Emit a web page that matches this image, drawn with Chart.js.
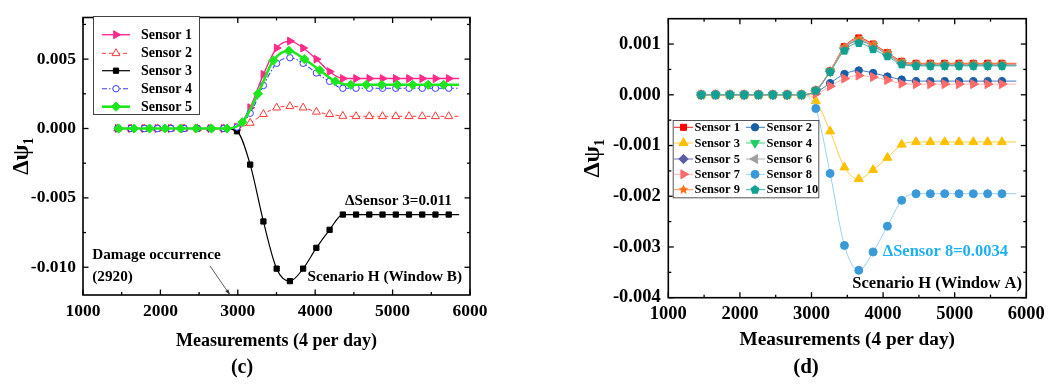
<!DOCTYPE html>
<html><head><meta charset="utf-8">
<script src="https://cdn.jsdelivr.net/npm/chart.js@4.4.1/dist/chart.umd.min.js"></script>
<style>
html,body{margin:0;padding:0;background:#fff;overflow:hidden}
.p{position:absolute;top:0;width:525px;height:385px}
</style></head>
<body>
<div class="p" style="left:0"><canvas id="c1"></canvas></div>
<div class="p" style="left:525px"><canvas id="c2"></canvas></div>
<script>
// ---------- tick labels ----------
const xTicks = [1000, 2000, 3000, 4000, 5000, 6000];
const xMinorTicks = [1500, 2500, 3500, 4500, 5500];
const yTicksC = [-0.010, -0.005, 0.000, 0.005];
const yMinorC = [-0.0075, -0.0025, 0.0025, 0.0075];
const yTicksD = [-0.004, -0.003, -0.002, -0.001, 0.000, 0.001];
const yMinorD = [-0.0035, -0.0025, -0.0015, -0.0005, 0.0005];

// ---------- panel (c) data ----------
const sensorLabelsC = ['Sensor 1', 'Sensor 2', 'Sensor 3', 'Sensor 4', 'Sensor 5'];
const xC14 = [1450, 1621, 1792, 1963, 2134, 2305, 2476, 2647, 2818, 2989, 3160, 3331, 3502, 3673, 3844, 4015, 4186, 4357, 4528, 4699, 4870, 5041, 5212, 5383, 5554, 5725, 5860];
const xC5 = [1460, 1660, 1860, 2060, 2260, 2460, 2660, 2860, 3060, 3260, 3460, 3660, 3860, 4060, 4260, 4460, 4660, 4860, 5060, 5260, 5460, 5660, 5860];
const c1 = [0, 0, 0, 0, 0, 0, 0, 0, 0, 0.0001, 0.0015, 0.0039, 0.0058, 0.0063, 0.0058, 0.0050, 0.0041, 0.0036, 0.0036, 0.0036, 0.0036, 0.0036, 0.0036, 0.0036, 0.0036, 0.0036, 0.0036];
const c2 = [0, 0, 0, 0, 0, 0, 0, 0, 0, 0.00002, 0.0004, 0.00103, 0.0015, 0.0016, 0.0015, 0.0012, 0.00103, 0.0009, 0.00088, 0.00088, 0.00088, 0.00088, 0.00088, 0.00088, 0.00088, 0.00088, 0.00088];
const c3 = [0, 0, 0, 0, 0, 0, 0, 0, 0, -0.0002, -0.0026, -0.0067, -0.0101, -0.0110, -0.0101, -0.0086, -0.0073, -0.0062, -0.0062, -0.0062, -0.0062, -0.0062, -0.0062, -0.0062, -0.0062, -0.0062, -0.0062];
const c4 = [0, 0, 0, 0, 0, 0, 0, 0, 0, 0.0001, 0.0011, 0.0031, 0.0047, 0.0051, 0.0047, 0.0040, 0.0034, 0.0029, 0.0029, 0.0029, 0.0029, 0.0029, 0.0029, 0.0029, 0.0029, 0.0029, 0.0029];
const c5 = [0, 0, 0, 0, 0, 0, 0, 0, 0.00045, 0.0025, 0.0049, 0.0056, 0.0050, 0.0042, 0.0034, 0.00315, 0.00315, 0.00315, 0.00315, 0.00315, 0.00315, 0.00315, 0.00315];

// ---------- panel (d) data ----------
const sensorLabelsD = ['Sensor 1', 'Sensor 2', 'Sensor 3', 'Sensor 4', 'Sensor 5', 'Sensor 6', 'Sensor 7', 'Sensor 8', 'Sensor 9', 'Sensor 10'];
const xD = [1460, 1660, 1860, 2060, 2260, 2460, 2660, 2860, 3060, 3260, 3460, 3660, 3860, 4060, 4260, 4460, 4660, 4860, 5060, 5260, 5460, 5660, 5860];
const d1 = [0, 0, 0, 0, 0, 0, 0, 0, 0.00009, 0.00047, 0.00095, 0.00112, 0.00100, 0.00083, 0.00066, 0.00062, 0.00062, 0.00062, 0.00062, 0.00062, 0.00062, 0.00062, 0.00062];
const d2 = [0, 0, 0, 0, 0, 0, 0, 0, 0.00005, 0.00023, 0.00041, 0.00048, 0.00043, 0.00036, 0.00030, 0.00027, 0.00027, 0.00027, 0.00027, 0.00027, 0.00027, 0.00027, 0.00027];
const d3 = [0, 0, 0, 0, 0, 0, 0, 0, -0.00012, -0.00072, -0.00143, -0.00166, -0.00148, -0.00124, -0.00098, -0.00093, -0.00093, -0.00093, -0.00093, -0.00093, -0.00093, -0.00093, -0.00093];
const d4 = [0, 0, 0, 0, 0, 0, 0, 0, 0.00008, 0.00046, 0.00092, 0.00108, 0.00097, 0.00080, 0.00063, 0.00058, 0.00058, 0.00058, 0.00058, 0.00058, 0.00058, 0.00058, 0.00058];
const d5 = [0, 0, 0, 0, 0, 0, 0, 0, 0.00008, 0.00046, 0.00091, 0.00106, 0.00096, 0.00079, 0.00063, 0.00059, 0.00059, 0.00059, 0.00059, 0.00059, 0.00059, 0.00059, 0.00059];
const d6 = [0, 0, 0, 0, 0, 0, 0, 0, 0.00008, 0.00046, 0.00093, 0.00107, 0.00097, 0.00080, 0.00062, 0.00058, 0.00058, 0.00058, 0.00058, 0.00058, 0.00058, 0.00058, 0.00058];
const d7 = [0, 0, 0, 0, 0, 0, 0, 0, 0.00002, 0.00017, 0.00032, 0.00038, 0.00035, 0.00029, 0.00022, 0.00021, 0.00021, 0.00021, 0.00021, 0.00021, 0.00021, 0.00021, 0.00021];
const d8 = [0, 0, 0, 0, 0, 0, 0, 0, -0.00027, -0.00155, -0.00297, -0.00346, -0.00310, -0.00259, -0.00208, -0.00195, -0.00195, -0.00195, -0.00195, -0.00195, -0.00195, -0.00195, -0.00195];
const d9 = [0, 0, 0, 0, 0, 0, 0, 0, 0.00009, 0.00047, 0.00094, 0.00110, 0.00099, 0.00082, 0.00065, 0.00061, 0.00061, 0.00061, 0.00061, 0.00061, 0.00061, 0.00061, 0.00061];
const d10 = [0, 0, 0, 0, 0, 0, 0, 0, 0.00008, 0.00045, 0.00087, 0.00102, 0.00090, 0.00076, 0.00060, 0.00057, 0.00057, 0.00057, 0.00057, 0.00057, 0.00057, 0.00057, 0.00057];

// ---------- styling ----------
const SERIF = "'Liberation Serif', 'Times New Roman', 'DejaVu Serif', serif";
Chart.defaults.font.family = SERIF;
Chart.defaults.color = '#000';

function shapeCanvas(kind, color, R) {
  const s = Math.ceil(2 * R + 2);
  const cv = document.createElement('canvas');
  cv.width = s; cv.height = s;
  const g = cv.getContext('2d');
  const c = s / 2;
  g.beginPath();
  if (kind === 'star') {
    for (let k = 0; k < 10; k++) {
      const rr = k % 2 === 0 ? R : R * 0.45;
      const a = -Math.PI / 2 + k * Math.PI / 5;
      const px = c + rr * Math.cos(a), py = c + rr * Math.sin(a);
      k === 0 ? g.moveTo(px, py) : g.lineTo(px, py);
    }
  } else {
    for (let k = 0; k < 5; k++) {
      const a = -Math.PI / 2 + k * 2 * Math.PI / 5;
      const px = c + R * Math.cos(a), py = c + R * Math.sin(a);
      k === 0 ? g.moveTo(px, py) : g.lineTo(px, py);
    }
  }
  g.closePath();
  g.fillStyle = color; g.fill();
  return cv;
}

function series(label, xs, ys, st, idx, n) {
  const last = xs.length - 1;
  return {
    label,
    data: xs.map((x, i) => ({ x, y: ys[i] })),
    borderColor: st.line,
    borderWidth: st.lw,
    borderDash: st.dash || [],
    pointStyle: st.ps,
    rotation: st.rot || 0,
    pointRadius: ctx => (ctx.dataIndex === last ? 0 : st.r),
    pointBackgroundColor: st.fill,
    pointBorderColor: st.pb || st.fill,
    pointBorderWidth: st.pbw || 1,
    cubicInterpolationMode: 'monotone',
    fill: false,
    order: n - idx,
    _legendRadius: st.r
  };
}

const stylesC = [
  { line: '#ff2a8a', lw: 1.4, ps: 'triangle', rot: 90, r: 4.6, fill: '#ff2a8a' },
  { line: '#ff3a3a', lw: 1.0, dash: [4, 3], ps: 'triangle', r: 4.6, fill: '#ffffff', pb: '#ff3a3a', pbw: 1 },
  { line: '#000000', lw: 1.2, ps: 'rect', r: 3.7, fill: '#000000' },
  { line: '#3a3aff', lw: 1.1, dash: [5, 2, 1.5, 2], ps: 'circle', r: 3.2, fill: '#ffffff', pb: '#3a3aff', pbw: 1 },
  { line: '#1ee61e', lw: 2.6, ps: 'rectRot', r: 4.6, fill: '#1ee61e' }
];
const xsC = [xC14, xC14, xC14, xC14, xC5];
const ysC = [c1, c2, c3, c4, c5];

const stylesD = [
  { line: '#ff2020', lw: 1, ps: 'rect', r: 4.3, fill: '#ff0000' },
  { line: '#3c78bf', lw: 1, ps: 'circle', r: 3.7, fill: '#1a5ea8' },
  { line: '#ffcc40', lw: 1, ps: 'triangle', r: 5.2, fill: '#ffc000' },
  { line: '#40d080', lw: 1, ps: 'triangle', rot: 180, r: 5.2, fill: '#22cc66' },
  { line: '#7070b8', lw: 1, ps: 'rectRot', r: 4.7, fill: '#5b5ba8' },
  { line: '#b0b0b0', lw: 1, ps: 'triangle', rot: 270, r: 5.2, fill: '#a0a0a0' },
  { line: '#ffb0b0', lw: 1, ps: 'triangle', rot: 90, r: 5.2, fill: '#ff6b6b' },
  { line: '#9ccfee', lw: 1, ps: 'circle', r: 4, fill: '#3a9ad9' },
  { line: '#ff9050', lw: 1, ps: shapeCanvas('star', '#ff6a13', 5.2), r: 5.2, fill: '#ff6a13' },
  { line: '#40b0a8', lw: 1, ps: shapeCanvas('pent', '#12a090', 4.8), r: 4.8, fill: '#12a090' }
];
const ysD = [d1, d2, d3, d4, d5, d6, d7, d8, d9, d10];

// ---------- decoration plugin: inward ticks, frame, boxed legend, annotations ----------
const decor = {
  id: 'decor',
  afterDatasetsDraw(chart, args, o) {
    const { ctx, chartArea: a, scales: { x, y } } = chart;
    ctx.save();
    ctx.strokeStyle = '#000';
    ctx.setLineDash([]);
    const seg = (x0, y0, x1, y1) => { ctx.beginPath(); ctx.moveTo(x0, y0); ctx.lineTo(x1, y1); ctx.stroke(); };
    ctx.lineWidth = 1.3;
    const xt = (vals, len) => vals.forEach(v => { const p = x.getPixelForValue(v); seg(p, a.bottom, p, a.bottom - len); seg(p, a.top, p, a.top + len); });
    const yt = (vals, len) => vals.forEach(v => { const p = y.getPixelForValue(v); seg(a.left, p, a.left + len, p); seg(a.right, p, a.right - len, p); });
    xt(x.ticks.map(t => t.value), o.majLen); xt(o.xMinor, o.minLen);
    yt(y.ticks.map(t => t.value), o.majLen); yt(o.yMinor, o.minLen);
    ctx.lineWidth = 1.6;
    ctx.strokeRect(a.left, a.top, a.right - a.left, a.bottom - a.top);

    // legend
    const L = o.legend;
    ctx.fillStyle = '#fff';
    ctx.fillRect(L.box[0], L.box[1], L.box[2] - L.box[0], L.box[3] - L.box[1]);
    ctx.lineWidth = 1; ctx.strokeStyle = L.border;
    ctx.strokeRect(L.box[0] + 0.5, L.box[1] + 0.5, L.box[2] - L.box[0], L.box[3] - L.box[1]);
    chart.data.datasets.forEach((ds, i) => {
      const col = L.cols[i % L.cols.length];
      const ry = L.rows[Math.floor(i / L.cols.length)];
      ctx.strokeStyle = ds.borderColor; ctx.lineWidth = ds.borderWidth;
      ctx.setLineDash(ds.borderDash || []);
      seg(col.l0, ry, col.l1, ry);
      ctx.setLineDash([]);
      ctx.fillStyle = ds.pointBackgroundColor; ctx.strokeStyle = ds.pointBorderColor;
      ctx.lineWidth = ds.pointBorderWidth;
      Chart.helpers.drawPoint(ctx, { pointStyle: ds.pointStyle, rotation: ds.rotation, radius: ds._legendRadius, borderWidth: ds.pointBorderWidth }, col.m, ry);
      ctx.fillStyle = '#000';
      ctx.font = 'bold ' + L.size + 'px ' + SERIF;
      ctx.textAlign = 'left'; ctx.textBaseline = 'middle';
      ctx.fillText(ds.label, col.t, ry + 0.5);
    });

    // annotations
    o.texts.forEach(t => {
      ctx.font = 'bold ' + t.size + 'px ' + SERIF;
      ctx.fillStyle = t.color || '#000';
      ctx.textAlign = 'left'; ctx.textBaseline = 'middle';
      ctx.fillText(t.text, x.getPixelForValue(t.x), y.getPixelForValue(t.y));
    });
    if (o.arrow) {
      const x0 = x.getPixelForValue(o.arrow.from[0]), y0 = y.getPixelForValue(o.arrow.from[1]);
      const x1 = x.getPixelForValue(o.arrow.to[0]), y1 = y.getPixelForValue(o.arrow.to[1]);
      ctx.strokeStyle = '#333'; ctx.fillStyle = '#333'; ctx.lineWidth = 0.8;
      seg(x0, y0, x1, y1);
      const ang = Math.atan2(y1 - y0, x1 - x0), h = 6;
      ctx.beginPath();
      ctx.moveTo(x1, y1);
      ctx.lineTo(x1 - h * Math.cos(ang - 0.3), y1 - h * Math.sin(ang - 0.3));
      ctx.lineTo(x1 - h * Math.cos(ang + 0.3), y1 - h * Math.sin(ang + 0.3));
      ctx.closePath(); ctx.fill();
    }
    // panel label
    ctx.font = 'bold ' + o.panel.size + 'px ' + SERIF;
    ctx.fillStyle = '#000'; ctx.textAlign = 'center'; ctx.textBaseline = 'middle';
    ctx.fillText(o.panel.text, o.panel.x, o.panel.y);
    ctx.restore();
  }
};

function makeChart(id, cfg) {
  const datasets = cfg.labels.map((lab, i) => series(lab, cfg.xs[i], cfg.ys[i], cfg.styles[i], i, cfg.labels.length));
  return new Chart(document.getElementById(id), {
    type: 'line',
    data: { datasets },
    plugins: [decor],
    options: {
      responsive: true, maintainAspectRatio: false, animation: false, devicePixelRatio: 1, events: [],
      layout: { padding: { top: cfg.top, right: cfg.right, left: 0, bottom: 0 } },
      plugins: {
        legend: { display: false }, tooltip: { enabled: false }, title: { display: false },
        decor: cfg.decor
      },
      scales: {
        x: {
          type: 'linear', min: 1000, max: 6000,
          afterBuildTicks: s => { s.ticks = xTicks.map(v => ({ value: v })); },
          afterFit: s => { s.height = cfg.xH; },
          grid: { display: false, drawTicks: false }, border: { display: false },
          ticks: { padding: cfg.xPad, color: '#000', font: { size: cfg.tickSize, weight: 'bold' }, maxRotation: 0, autoSkip: false, callback: v => String(v) },
          title: { display: true, text: 'Measurements (4 per day)', color: '#000', font: { size: cfg.xTitleSize, weight: 'bold' }, padding: { top: 0, bottom: cfg.xTitlePad } }
        },
        y: {
          type: 'linear', min: cfg.ymin, max: cfg.ymax,
          afterBuildTicks: s => { s.ticks = cfg.yTicks.map(v => ({ value: v })); },
          afterFit: s => { s.width = cfg.yW; },
          grid: { display: false, drawTicks: false }, border: { display: false },
          ticks: { padding: cfg.yPad, color: '#000', font: { size: cfg.tickSize, weight: 'bold' }, autoSkip: false, callback: v => v.toFixed(3) },
          title: { display: true, text: 'Δψ₁', color: '#000', font: { size: cfg.yTitleSize, weight: 'bold' }, padding: { top: cfg.yTitlePad, bottom: 0 } }
        }
      }
    }
  });
}

makeChart('c1', {
  labels: sensorLabelsC, xs: xsC, ys: ysC, styles: stylesC,
  top: 9, right: 55, xH: 90, yW: 83, xPad: 6, yPad: 7, tickSize: 17.5,
  xTitleSize: 18, xTitlePad: 33, yTitleSize: 23, yTitlePad: 8.3,
  ymin: -0.012, ymax: 0.008, yTicks: yTicksC,
  decor: {
    majLen: 5.5, minLen: 3, xMinor: xMinorTicks, yMinor: yMinorC,
    legend: {
      box: [93, 16, 199, 114], border: '#444', size: 14,
      cols: [{ l0: 102, l1: 130, m: 116, t: 141 }],
      rows: [34.7, 53.3, 70.7, 88.7, 106.7]
    },
    texts: [
      { text: 'ΔSensor 3=0.011', x: 4386, y: -0.0052, size: 15.2 },
      { text: 'Damage occurrence', x: 1120, y: -0.00915, size: 15.2 },
      { text: '(2920)', x: 1120, y: -0.0107, size: 15.2 },
      { text: 'Scenario H (Window B)', x: 3900, y: -0.0107, size: 15.2 }
    ],
    arrow: { from: [2640, -0.0099], to: [2900, -0.0120] },
    panel: { text: '(c)', x: 242, y: 368, size: 20 }
  }
});

makeChart('c2', {
  labels: sensorLabelsD, xs: sensorLabelsD.map(() => xD), ys: ysD, styles: stylesD,
  top: 9.3, right: 21.7, xH: 87.3, yW: 143.3, xPad: 5.2, yPad: 7.6, tickSize: 18.5,
  xTitleSize: 19.3, xTitlePad: 33.4, yTitleSize: 24, yTitlePad: 53.6,
  ymin: -0.004, ymax: 0.0015, yTicks: yTicksD,
  decor: {
    majLen: 5.5, minLen: 3, xMinor: xMinorTicks, yMinor: yMinorD,
    legend: {
      box: [147.7, 120, 293.3, 197.3], border: '#555', size: 12.5,
      cols: [{ l0: 149, l1: 168, m: 158.5, t: 169.5 }, { l0: 221, l1: 240, m: 230, t: 241.5 }],
      rows: [127.3, 143, 159, 174.3, 189.7]
    },
    texts: [
      { text: 'ΔSensor 8=0.0034', x: 3996, y: -0.00309, size: 16.5, color: '#1fb0f0' },
      { text: 'Scenario H (Window A)', x: 3569, y: -0.00373, size: 16.6 }
    ],
    panel: { text: '(d)', x: 281, y: 368, size: 21 }
  }
});
</script>
</body></html>
